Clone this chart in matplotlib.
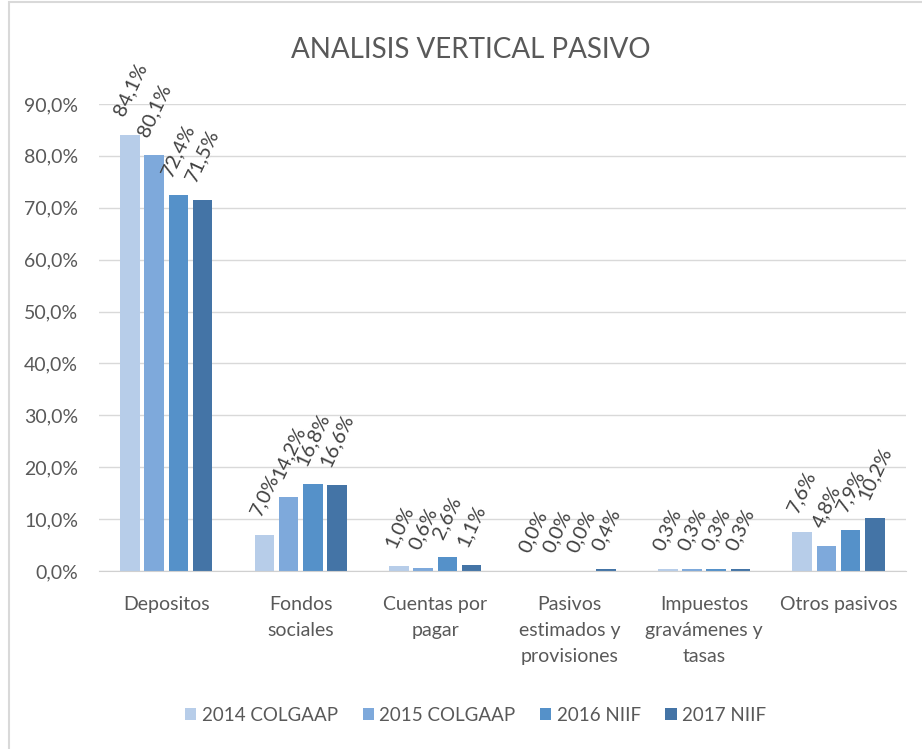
import matplotlib
matplotlib.use("Agg")
import matplotlib.pyplot as plt
from matplotlib.patches import Rectangle
import numpy as np

categories = ["Depositos", "Fondos\nsociales", "Cuentas por\npagar",
              "Pasivos\nestimados y\nprovisiones", "Impuestos\ngravámenes y\ntasas",
              "Otros pasivos"]
series_names = ["2014 COLGAAP", "2015 COLGAAP", "2016 NIIF", "2017 NIIF"]
v2014 = [84.1, 7.0, 1.0, 0.0, 0.3, 7.6]
v2015 = [80.1, 14.2, 0.6, 0.0, 0.3, 4.8]
v2016 = [72.4, 16.8, 2.6, 0.0, 0.3, 7.9]
v2017 = [71.5, 16.6, 1.1, 0.4, 0.3, 10.2]
yticks = [0, 10, 20, 30, 40, 50, 60, 70, 80, 90]
colors = ["#B7CDE9", "#7EA9DB", "#5591C9", "#4474A6"]

plt.rcParams["font.family"] = ["Lato", "DejaVu Sans"]
grey = "#595959"

fig = plt.figure(figsize=(9.22, 7.49), dpi=100)
ax = fig.add_axes([0.1074, 0.2377, 0.875, 0.6235])

x = np.arange(len(categories))
pitch = 0.18
width = 0.145
for i, vals in enumerate([v2014, v2015, v2016, v2017]):
    pos = x + (i - 1.5) * pitch
    ax.bar(pos, vals, width, color=colors[i], label=series_names[i], zorder=3)
    for px, v in zip(pos, vals):
        ax.annotate(f"{v:.1f}%".replace(".", ","), (px, v), xytext=(0, 16),
                    textcoords="offset pixels", rotation=65, ha="center",
                    va="bottom", fontsize=14.5, color="#404040",
                    annotation_clip=False, zorder=4)

ax.set_xlim(-0.5, len(categories) - 0.5)
ax.set_ylim(0, 90)
ax.set_yticks(yticks)
ax.set_yticklabels([f"{t:.1f}%".replace(".", ",") for t in yticks])
ax.set_xticks(x)
ax.set_xticklabels(categories, linespacing=1.65)
ax.tick_params(axis="both", length=0, colors=grey, labelsize=14)
ax.tick_params(axis="y", pad=15)
ax.tick_params(axis="x", pad=18)
ax.grid(axis="y", color="#D9D9D9", linewidth=1, zorder=0)
for s in ["top", "right", "left"]:
    ax.spines[s].set_visible(False)
ax.spines["bottom"].set_color("#D0D0D0")
ax.spines["bottom"].set_zorder(5)

fig.text(0.511, 0.933, "ANALISIS VERTICAL PASIVO", ha="center", va="center",
         fontsize=20, color=grey)

leg = fig.legend(loc="center", bbox_to_anchor=(0.516, 0.045), ncol=4,
                 frameon=False, fontsize=13.5, handlelength=0.6,
                 handleheight=0.6, handletextpad=0.3, columnspacing=1.3)
for t in leg.get_texts():
    t.set_color(grey)

fig.add_artist(Rectangle((9 / 922, -0.1), 1.2, 1.1 - 2 / 749,
                         transform=fig.transFigure, fill=False,
                         edgecolor="#D9D9D9", linewidth=1.5))

fig.savefig("out.png", dpi=100)
